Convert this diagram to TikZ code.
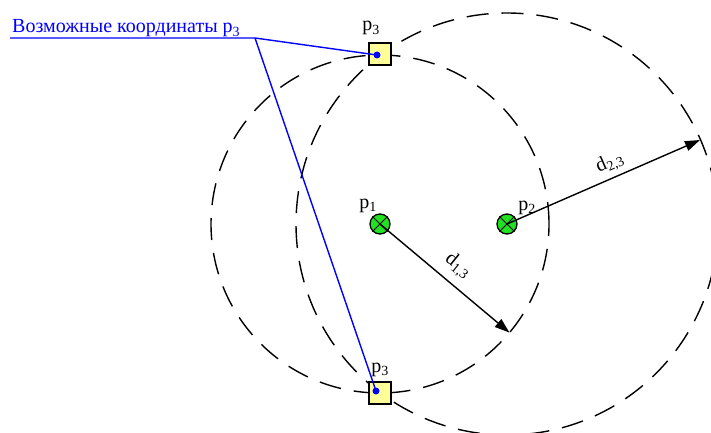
\documentclass[tikz,border=0pt]{standalone}
\usepackage{fontspec}
\setmainfont{Liberation Serif}
\usetikzlibrary{arrows.meta}
\definecolor{markgreen}{HTML}{22E022}
\definecolor{spotyellow}{HTML}{FFFF99}

\begin{document}
\begin{tikzpicture}[x=1pt,y=-1pt,>={Triangle[length=15pt,width=10pt]},
  font=\fontsize{20}{22}\selectfont,
  orbit/.style={dash pattern=on 22pt off 13pt,line width=1.4pt},
  beacon/.style={circle,draw,line width=1.3pt,fill=markgreen,minimum size=20pt,inner sep=0pt},
  spot/.style={rectangle,draw,line width=1.3pt,fill=spotyellow,minimum size=22pt,inner sep=0pt},
  spotdot/.style={circle,fill=blue,minimum size=7pt,inner sep=0pt},
  callout/.style={blue,line width=1.4pt},
  tagtext/.style={inner sep=0pt,anchor=base}]
  \useasboundingbox (0,0) rectangle (711,433);
  \coordinate (c1) at (380,224);
  \coordinate (c2) at (507,224);
  \draw[orbit] (c1) circle[radius=169pt];
  \draw[orbit] (c2) circle[radius=211pt];
  \node[beacon] (p1) at (c1) {};
  \node[beacon] (p2) at (c2) {};
  \draw[line width=1pt] (p1.north west) -- (p1.south east) (p1.north east) -- (p1.south west);
  \draw[line width=1pt] (p2.north west) -- (p2.south east) (p2.north east) -- (p2.south west);
  \node[spot] (top) at (380,54) {};
  \node[spotdot] (s1) at (377,55) {};
  \node[spot] (bot) at (380,393) {};
  \node[spotdot] (s2) at (376,391) {};
  \coordinate (r13) at (509.5,332.6);
  \coordinate (r23) at (700,140);
  \draw[->,line width=1.4pt] (p1.center) -- (r13);
  \draw[->,line width=1.4pt] (p2.center) -- (r23);
  \node[tagtext] (lp1) at (368,208) {p\textsubscript{1}};
  \node[tagtext] (lp2) at (527,210) {p\textsubscript{2}};
  \node[tagtext] (lp3a) at (371,31) {p\textsubscript{3}};
  \node[tagtext] (lp3b) at (380,372) {p\textsubscript{3}};
  \node[tagtext,anchor=center,rotate=-39] (ld13) at (458,266) {d\textsubscript{1,3}};
  \node[tagtext,anchor=center,rotate=23.5] (ld23) at (610,163) {d\textsubscript{2,3}};
  \node[tagtext,anchor=base west,text=blue] (note) at (12,33) {Возможные координаты p\textsubscript{3}};
  \coordinate (lead) at (10,38);
  \coordinate (knee) at (255,38);
  \draw[callout] (lead) -- (knee) -- (s1.center);
  \draw[callout] (knee) -- (s2.center);
\end{tikzpicture}
\end{document}
